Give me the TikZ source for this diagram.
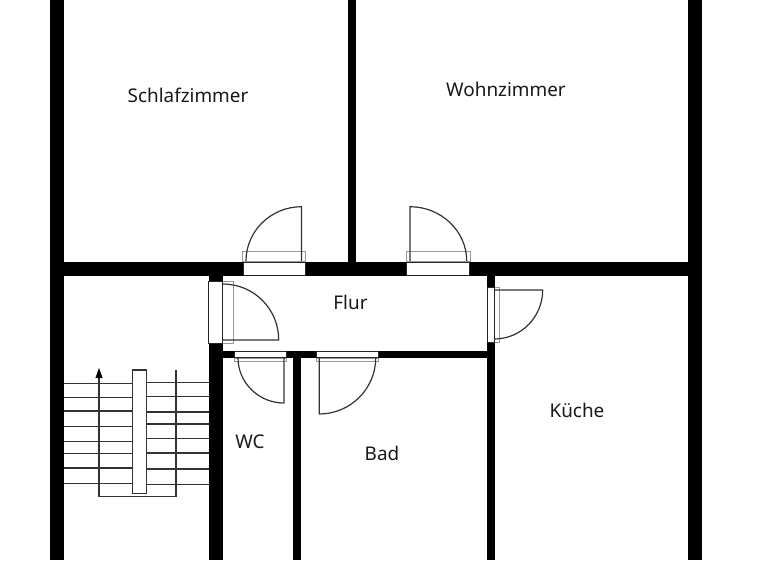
\documentclass[tikz,border=0pt]{standalone}
\usepackage{fontspec}
\setmainfont{Noto Sans}
\tikzset{
  wall/.style={fill=black,draw=none},
  gap/.style={fill=white,draw=black!85,line width=1pt},
  frame/.style={draw=black!40,line width=0.7pt},
  leaf/.style={draw=black!80,line width=1.2pt,line join=round},
  tread/.style={draw=black!80,line width=1.2pt},
  room/.style={font=\fontsize{18.9}{20}\selectfont,text=black!90,inner sep=0pt}
}
\begin{document}
\begin{tikzpicture}[x=1pt,y=-1pt]
\useasboundingbox (0,0) rectangle (768,560);
\fill[white] (0,0) rectangle (768,560);
% stairs
\foreach \y in {383.3,397.7,411,426.3,441.3,453.7,468,483.3} \draw[tread] (64,\y) -- (132.3,\y);
\foreach \y in {382.3,396.7,412,424,438.7,453,469,484.3} \draw[tread] (146.7,\y) -- (209,\y);
\draw[tread] (132.3,370) rectangle (146.7,493.3);
\draw[tread,line join=miter] (99,374) -- (99,496.7) -- (176,496.7) -- (176,370);
\fill[black] (99,368) -- (102.6,378) -- (95.4,378) -- cycle;
% walls
\fill[wall] (50,0) rectangle (64,560);
\fill[wall] (688,0) rectangle (702,560);
\fill[wall] (348,0) rectangle (356,262);
\fill[wall] (50,262) rectangle (702,276);
\fill[wall] (209,276) rectangle (222.7,560);
\fill[wall] (222,351) rectangle (495,358);
\fill[wall] (487,276) rectangle (495,560);
\fill[wall] (293,351) rectangle (301,560);
% door frames
\draw[frame] (242.3,251) rectangle (305.5,261);
\draw[frame] (406,251) rectangle (470,261);
\draw[frame] (222.7,281) rectangle (233.6,343);
\draw[frame] (494,287) rectangle (499.7,342);
\draw[frame] (234,358) rectangle (286,361);
\draw[frame] (316,358) rectangle (378,361);
% door openings
\draw[gap] (243,262) rectangle (305,275.5);
\draw[gap] (406.7,262) rectangle (469,275.5);
\draw[gap] (208.5,281) rectangle (222.7,343);
\draw[gap] (487,287) rectangle (494,342);
\draw[gap] (234.3,351) rectangle (286,357.7);
\draw[gap] (316,351) rectangle (378,357.7);
% door leaves and swings
\draw[leaf] (301.5,261) -- (301.5,206.7) .. controls (271,206.7) and (246,231) .. (246,261);
\draw[leaf] (410,261) -- (410,206.7) .. controls (441,206.7) and (466.7,231) .. (466.7,261);
\draw[leaf] (222.7,340) -- (278.7,340) .. controls (278.7,309) and (254,284) .. (222.7,284);
\draw[leaf] (494,290) -- (542.7,290) .. controls (542.7,316) and (522,339) .. (494,339);
\draw[leaf] (284,358) -- (284,403) .. controls (258,403) and (238,382) .. (238,358);
\draw[leaf] (319.3,358) -- (319.3,414) .. controls (350,414) and (375.7,389) .. (375.7,358);
% labels
\node[room] (schlaf) at (188,95) {Schlafzimmer};
\node[room] (wohn) at (506,89) {Wohnzimmer};
\node[room] (flur) at (350.5,302.5) {Flur};
\node[room] (kueche) at (577,410) {Küche};
\node[room] (wc) at (250,442) {WC};
\node[room] (bad) at (382,453) {Bad};
\end{tikzpicture}
\end{document}
